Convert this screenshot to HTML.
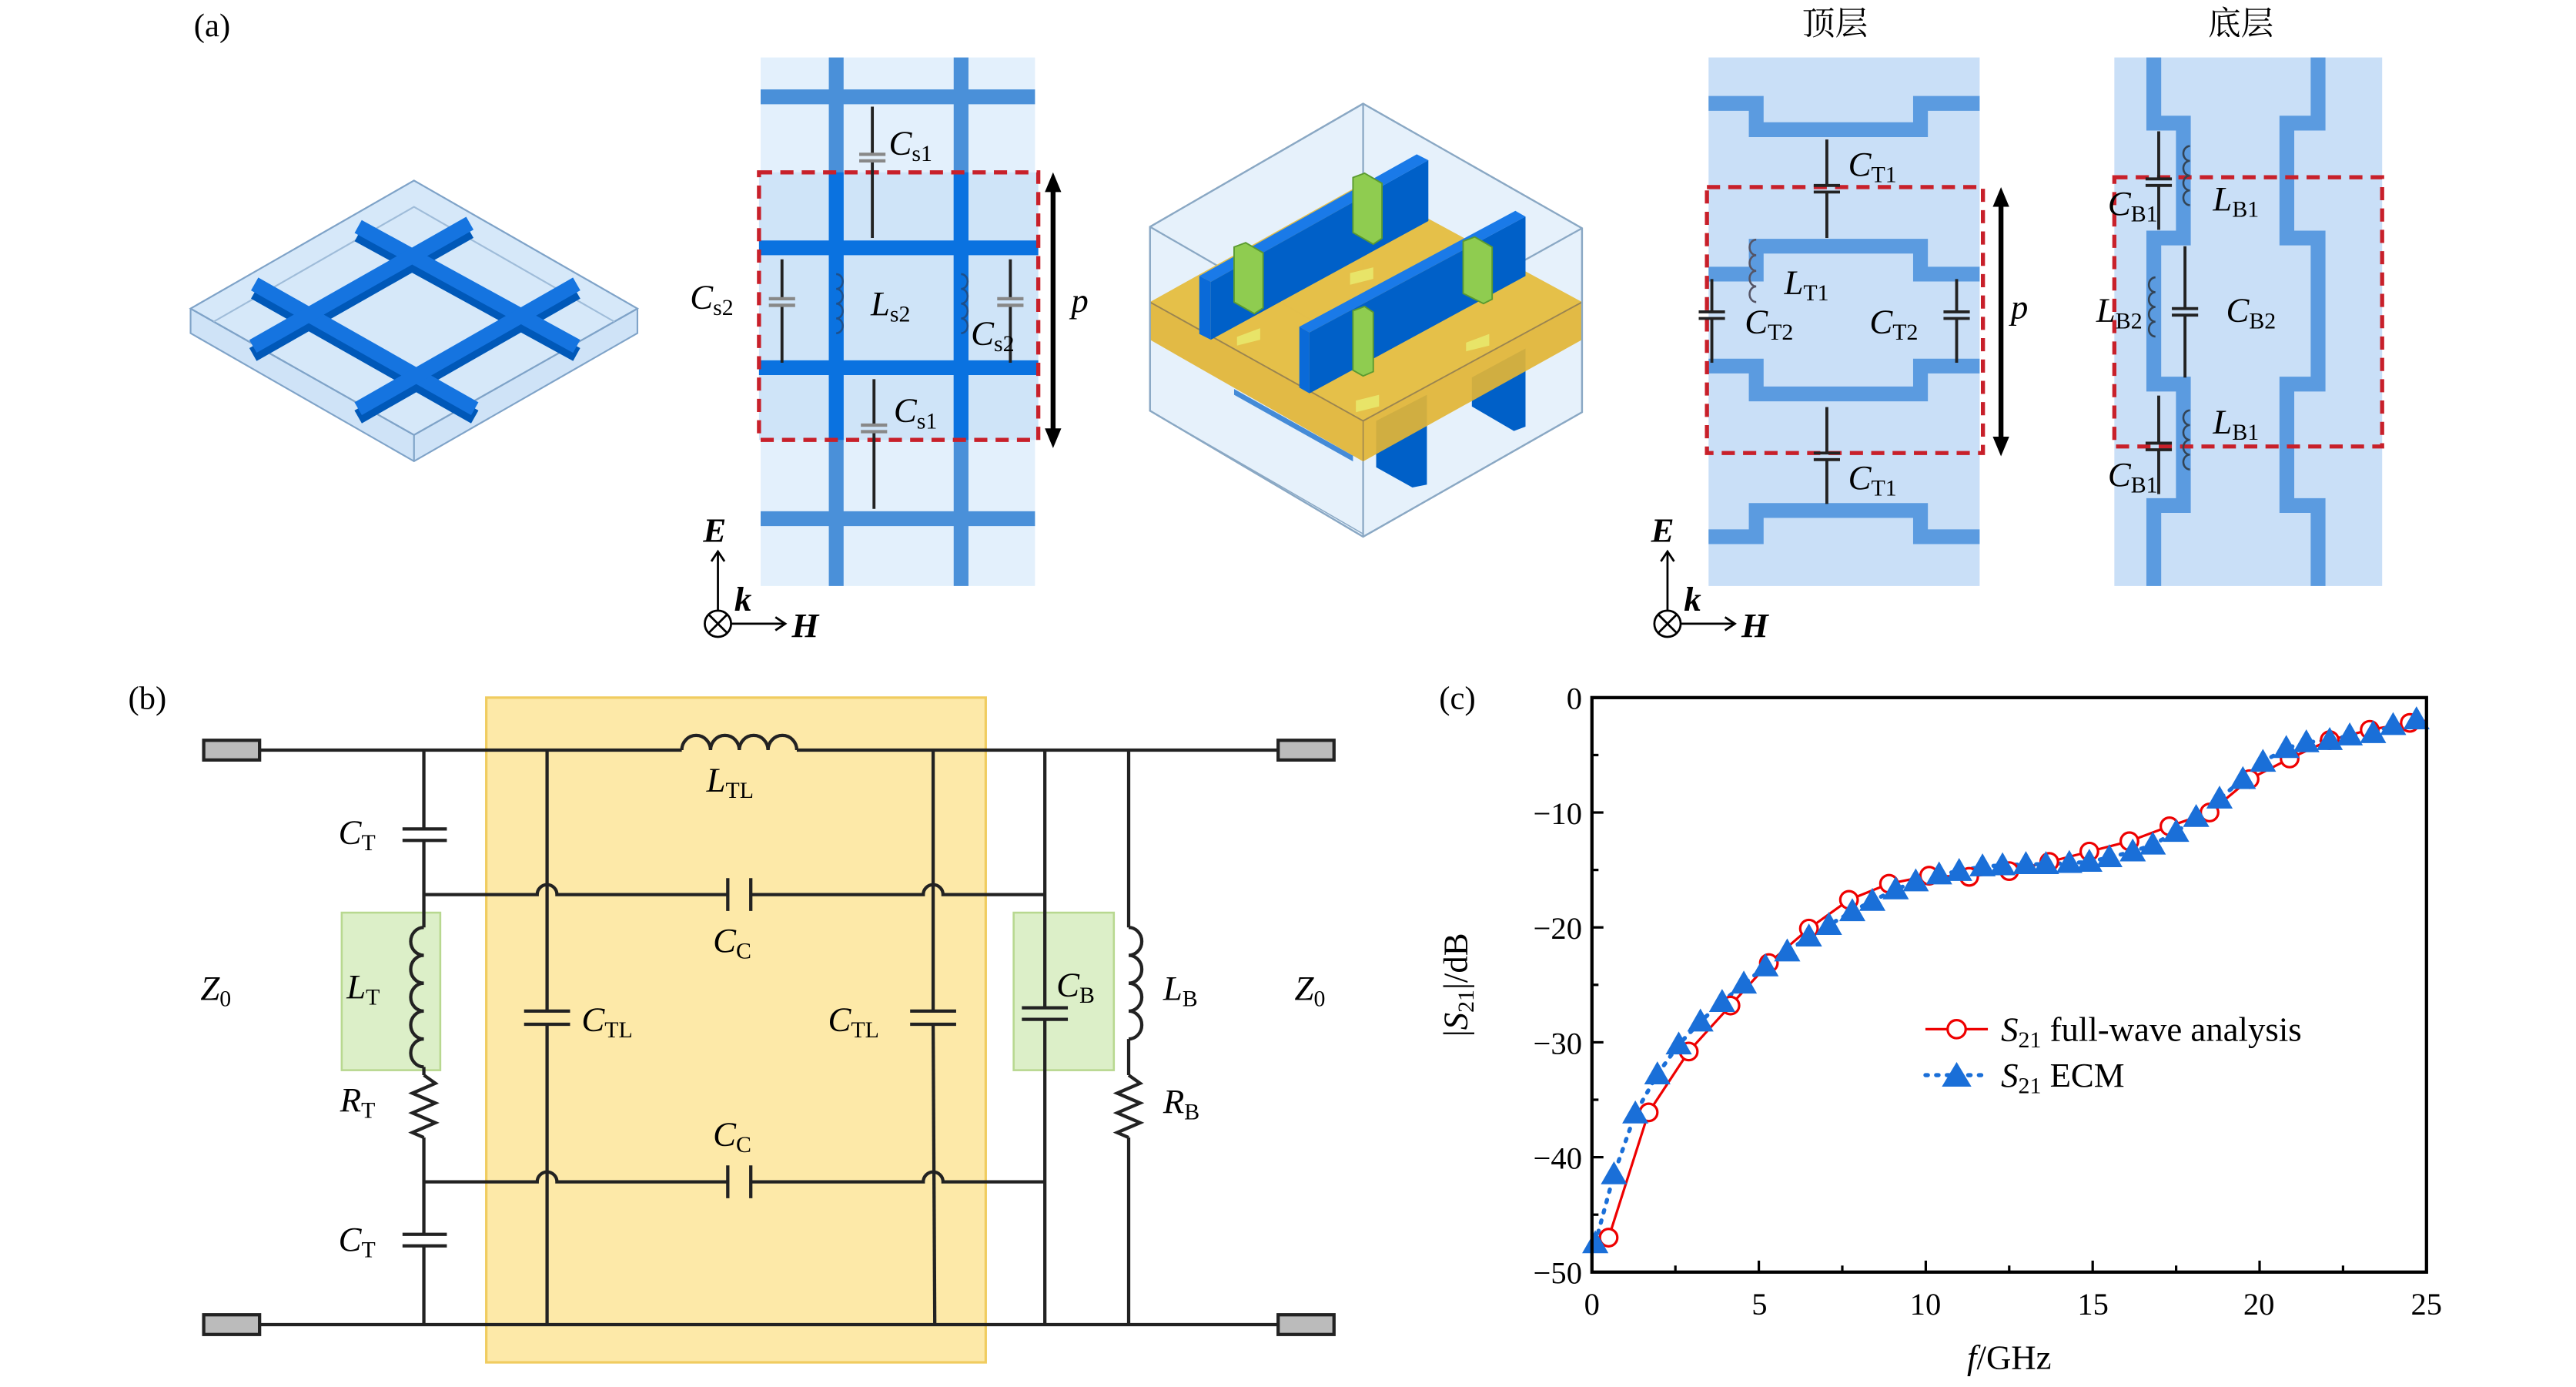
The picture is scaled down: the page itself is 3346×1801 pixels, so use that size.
<!DOCTYPE html>
<html><head><meta charset="utf-8"><style>
html,body{margin:0;padding:0;background:#fff;}
svg{display:block;}
text{font-family:"Liberation Serif","Noto Serif CJK SC",serif;fill:#000;}
.m{font-style:italic;font-size:21px;}
.s{font-style:normal;font-size:14px;}
.tk{font-size:19px;}
</style></head><body>
<svg id="sv" width="3346" height="1801" viewBox="0 0 1568 845" preserveAspectRatio="none" xmlns="http://www.w3.org/2000/svg">
<rect width="1568" height="845" fill="#fff"/>
<!-- labels -->
<text x="118" y="22" font-size="20">(a)</text>
<text x="78" y="432" font-size="20">(b)</text>
<text x="876" y="432" font-size="20">(c)</text>
<text x="1097" y="21" font-size="20" font-family="Noto Serif CJK SC,serif">顶层</text>
<text x="1344" y="21" font-size="20" font-family="Noto Serif CJK SC,serif">底层</text>

<!-- 1: isometric grid plate -->
<g stroke="#7fa3c8" stroke-width="1">
<polygon points="116,188 252,110 388,188 388,203 252,281 116,203" fill="#cfe3f7"/>
<polygon points="116,188 252,265 388,188 252,110" fill="#d6e8f9"/>
<polyline points="116,188 252,265 388,188" fill="none"/>
<line x1="252" y1="265" x2="252" y2="281"/>
<polyline points="130,196 252,126 374,196" fill="none" stroke="#9fbcd9"/>
</g>
<g stroke-linecap="butt">
<g stroke="#0058b8" stroke-width="9">
<line x1="218" y1="143" x2="351" y2="216"/><line x1="155" y1="178" x2="289" y2="254"/>
<line x1="286" y1="141" x2="154" y2="216"/><line x1="351" y1="178" x2="218" y2="254"/>
</g>
<g stroke="#1574e0" stroke-width="9">
<line x1="218" y1="138" x2="351" y2="211"/><line x1="155" y1="173" x2="289" y2="249"/>
<line x1="286" y1="136" x2="154" y2="211"/><line x1="351" y1="173" x2="218" y2="249"/>
</g></g>

<!-- 2: grid unit cell -->
<rect x="463" y="35" width="167" height="322" fill="#e3f0fc"/>
<rect x="462" y="105" width="170" height="163" fill="#cfe4f8"/>
<g stroke="#4a90d9" stroke-width="9">
<line x1="509" y1="35" x2="509" y2="357"/><line x1="585" y1="35" x2="585" y2="357"/>
<line x1="463" y1="59" x2="630" y2="59"/><line x1="463" y1="316" x2="630" y2="316"/>
</g>
<g stroke="#0a72e0" stroke-width="9">
<line x1="509" y1="105" x2="509" y2="268"/><line x1="585" y1="105" x2="585" y2="268"/>
<line x1="462" y1="151" x2="632" y2="151"/><line x1="462" y1="224" x2="632" y2="224"/>
</g>
<rect x="462" y="105" width="170" height="163" fill="none" stroke="#c8202a" stroke-width="2.5" stroke-dasharray="8,5"/>
<g stroke="#222" stroke-width="1.8" fill="none">
<line x1="531" y1="65" x2="531" y2="94"/><line x1="531" y1="98" x2="531" y2="145"/>
<line x1="476" y1="158" x2="476" y2="182"/><line x1="476" y1="186" x2="476" y2="221"/>
<line x1="615" y1="158" x2="615" y2="182"/><line x1="615" y1="186" x2="615" y2="221"/>
<line x1="532" y1="231" x2="532" y2="259"/><line x1="532" y1="263" x2="532" y2="310"/>
</g>
<g stroke="#888" stroke-width="2">
<line x1="523" y1="94" x2="539" y2="94"/><line x1="523" y1="98" x2="539" y2="98"/>
<line x1="468" y1="182" x2="484" y2="182"/><line x1="468" y1="186" x2="484" y2="186"/>
<line x1="607" y1="182" x2="623" y2="182"/><line x1="607" y1="186" x2="623" y2="186"/>
<line x1="524" y1="259" x2="540" y2="259"/><line x1="524" y1="263" x2="540" y2="263"/>
</g>
<g stroke="#1e4f8a" stroke-width="1.2" fill="none">
<path d="M509,167 a4,4.5 0 1 1 0,9 a4,4.5 0 1 1 0,9 a4,4.5 0 1 1 0,9 a4,4.5 0 1 1 0,9"/>
<path d="M585,167 a4,4.5 0 1 1 0,9 a4,4.5 0 1 1 0,9 a4,4.5 0 1 1 0,9 a4,4.5 0 1 1 0,9"/>
</g>
<text class="m" x="541" y="94">C<tspan class="s" dy="4">s1</tspan></text>
<text class="m" x="420" y="188">C<tspan class="s" dy="4">s2</tspan></text>
<text class="m" x="530" y="192">L<tspan class="s" dy="4">s2</tspan></text>
<text class="m" x="591" y="210">C<tspan class="s" dy="4">s2</tspan></text>
<text class="m" x="544" y="257">C<tspan class="s" dy="4">s1</tspan></text>
<g stroke="#000" stroke-width="3"><line x1="641" y1="115" x2="641" y2="262"/></g>
<polygon points="641,105 636,117 646,117" fill="#000"/><polygon points="641,273 636,261 646,261" fill="#000"/>
<text class="m" x="652" y="190">p</text>
<!-- axes a -->
<g stroke="#000" stroke-width="1.3" fill="none">
<line x1="437" y1="372" x2="437" y2="337"/><polyline points="433,342 437,336 441,342"/>
<circle cx="437" cy="380" r="8"/><line x1="431" y1="374" x2="443" y2="386"/><line x1="443" y1="374" x2="431" y2="386"/>
<line x1="445" y1="380" x2="478" y2="380"/><polyline points="472,376 478,380 472,384"/>
</g>
<text class="m" x="428" y="330" font-weight="bold">E</text>
<text class="m" x="447" y="372" font-weight="bold" font-size="18">k</text>
<text class="m" x="482" y="388" font-weight="bold">H</text>
<g stroke="#000" stroke-width="1.3" fill="none">
<line x1="1015" y1="372" x2="1015" y2="337"/><polyline points="1011,342 1015,336 1019,342"/>
<circle cx="1015" cy="380" r="8"/><line x1="1009" y1="374" x2="1021" y2="386"/><line x1="1021" y1="374" x2="1009" y2="386"/>
<line x1="1023" y1="380" x2="1056" y2="380"/><polyline points="1050,376 1056,380 1050,384"/>
</g>
<text class="m" x="1005" y="330" font-weight="bold">E</text>
<text class="m" x="1025" y="372" font-weight="bold" font-size="18">k</text>
<text class="m" x="1060" y="388" font-weight="bold">H</text>

<!-- 3: cube (zoom coords) -->
<g transform="translate(700,60.5) scale(0.1765)">
<polygon points="0,440 735,15 1490,445 1490,1080 735,1510 0,1075" fill="#e6f1fb" stroke="#8aa8c4" stroke-width="6"/>
<polyline points="0,440 735,865 1490,445" fill="none" stroke="#8aa8c4" stroke-width="6"/>
<line x1="735" y1="15" x2="735" y2="865" stroke="#8aa8c4" stroke-width="6"/>
<polygon points="780,1110 955,1020 955,1330 905,1340 780,1270" fill="#0060c8"/>
<polygon points="1110,960 1295,860 1295,1130 1255,1145 1110,1060" fill="#0060c8"/>
<polygon points="290,1000 700,1230 700,1250 290,1020" fill="#0060c8" opacity="0.7"/>
<polygon points="0,700 735,290 1490,700 1490,830 735,1250 0,830" fill="#e2b535" opacity="0.92"/>
<polygon points="0,700 735,290 1490,700 735,1110" fill="#e5c04a" opacity="0.95"/>
<polyline points="0,700 735,1110 1490,700" fill="none" stroke="#9a8450" stroke-width="5"/>
<line x1="735" y1="1110" x2="735" y2="1250" stroke="#9a8450" stroke-width="4"/>
<g fill="#e8ec70" opacity="0.8">
<polygon points="300,820 380,790 380,830 300,850"/><polygon points="1090,840 1170,810 1170,850 1090,870"/>
<polygon points="690,600 770,580 770,620 690,640"/><polygon points="710,1040 790,1020 790,1060 710,1080"/>
</g>
<polygon points="170,610 920,190 960,210 210,630" fill="#1a7ae8"/>
<polygon points="170,610 210,630 210,830 170,810" fill="#0a6ad8"/>
<polygon points="210,630 960,210 960,420 210,830" fill="#0060c8"/>
<polygon points="515,785 1260,385 1295,405 550,805" fill="#1a7ae8"/>
<polygon points="515,785 550,805 550,1015 515,995" fill="#0a6ad8"/>
<polygon points="550,805 1295,405 1295,610 550,1015" fill="#0060c8"/>
<g fill="#8fcc50" stroke="#5a9a30" stroke-width="5">
<polygon points="700,270 740,255 800,290 800,480 770,500 700,460"/>
<polygon points="290,510 330,495 390,530 390,720 360,740 290,700"/>
<polygon points="1080,490 1120,475 1180,510 1180,690 1150,705 1080,670"/>
<polygon points="700,730 740,715 770,735 770,940 735,955 700,935"/>
</g>
<polygon points="0,440 735,15 1490,445 1490,1080 735,1510 0,1075" fill="none" stroke="#8aa8c4" stroke-width="6"/>
<line x1="735" y1="1250" x2="735" y2="1510" stroke="#8aa8c4" stroke-width="6"/>
<polyline points="0,1075 735,1500" fill="none" stroke="#8aa8c4" stroke-width="4"/>
</g>

<!-- 4: top layer -->
<rect x="1040" y="35" width="165" height="322" fill="#c9dff7"/>
<g stroke="#5b9be0" stroke-width="9" fill="none" stroke-linejoin="miter">
<polyline points="1040,63 1069,63 1069,79 1169,79 1169,63 1205,63"/>
<polyline points="1040,167 1069,167 1069,150 1169,150 1169,167 1205,167"/>
<polyline points="1040,223 1069,223 1069,240 1169,240 1169,223 1205,223"/>
<polyline points="1040,327 1069,327 1069,311 1169,311 1169,327 1205,327"/>
</g>
<rect x="1039" y="114" width="168" height="162" fill="none" stroke="#c8202a" stroke-width="2.5" stroke-dasharray="8,5"/>
<g stroke="#222" stroke-width="1.8">
<line x1="1112" y1="85" x2="1112" y2="113"/><line x1="1112" y1="117" x2="1112" y2="145"/>
<line x1="1112" y1="248" x2="1112" y2="276"/><line x1="1112" y1="280" x2="1112" y2="307"/>
<line x1="1042" y1="170" x2="1042" y2="190"/><line x1="1042" y1="194" x2="1042" y2="221"/>
<line x1="1191" y1="170" x2="1191" y2="190"/><line x1="1191" y1="194" x2="1191" y2="221"/>
<line x1="1104" y1="113" x2="1120" y2="113"/><line x1="1104" y1="117" x2="1120" y2="117"/>
<line x1="1104" y1="276" x2="1120" y2="276"/><line x1="1104" y1="280" x2="1120" y2="280"/>
<line x1="1034" y1="190" x2="1050" y2="190"/><line x1="1034" y1="194" x2="1050" y2="194"/>
<line x1="1183" y1="190" x2="1199" y2="190"/><line x1="1183" y1="194" x2="1199" y2="194"/>
</g>
<path d="M1069,146 a4,4.7 0 1 0 0,9.5 a4,4.7 0 1 0 0,9.5 a4,4.7 0 1 0 0,9.5 a4,4.7 0 1 0 0,9.5" fill="none" stroke="#556" stroke-width="1.2"/>
<text class="m" x="1125" y="107">C<tspan class="s" dy="4">T1</tspan></text>
<text class="m" x="1086" y="179">L<tspan class="s" dy="4">T1</tspan></text>
<text class="m" x="1062" y="203">C<tspan class="s" dy="4">T2</tspan></text>
<text class="m" x="1138" y="203">C<tspan class="s" dy="4">T2</tspan></text>
<text class="m" x="1125" y="298">C<tspan class="s" dy="4">T1</tspan></text>
<g stroke="#000" stroke-width="3"><line x1="1218" y1="124" x2="1218" y2="268"/></g>
<polygon points="1218,114 1213,126 1223,126" fill="#000"/><polygon points="1218,278 1213,266 1223,266" fill="#000"/>
<text class="m" x="1224" y="194">p</text>

<!-- 5: bottom layer -->
<rect x="1287" y="35" width="163" height="322" fill="#c9dff7"/>
<g stroke="#5b9be0" stroke-width="9" fill="none">
<polyline points="1311,35 1311,75 1329,75 1329,145 1311,145 1311,234 1329,234 1329,308 1311,308 1311,357"/>
<polyline points="1411,35 1411,75 1392,75 1392,145 1411,145 1411,234 1392,234 1392,308 1411,308 1411,357"/>
</g>
<rect x="1287" y="108" width="163" height="164" fill="none" stroke="#c8202a" stroke-width="2.5" stroke-dasharray="8,5"/>
<g stroke="#222" stroke-width="1.8">
<line x1="1314" y1="80" x2="1314" y2="109"/><line x1="1314" y1="113" x2="1314" y2="140"/>
<line x1="1306" y1="109" x2="1322" y2="109"/><line x1="1306" y1="113" x2="1322" y2="113"/>
<line x1="1330" y1="150" x2="1330" y2="188"/><line x1="1330" y1="192" x2="1330" y2="230"/>
<line x1="1322" y1="188" x2="1338" y2="188"/><line x1="1322" y1="192" x2="1338" y2="192"/>
<line x1="1314" y1="241" x2="1314" y2="270"/><line x1="1314" y1="274" x2="1314" y2="301"/>
<line x1="1306" y1="270" x2="1322" y2="270"/><line x1="1306" y1="274" x2="1322" y2="274"/>
</g>
<g fill="none" stroke="#345" stroke-width="1.2">
<path d="M1333,89 a4,4.5 0 1 0 0,9 a4,4.5 0 1 0 0,9 a4,4.5 0 1 0 0,9 a4,4.5 0 1 0 0,9"/>
<path d="M1312,169 a4,4.5 0 1 0 0,9 a4,4.5 0 1 0 0,9 a4,4.5 0 1 0 0,9 a4,4.5 0 1 0 0,9"/>
<path d="M1333,250 a4,4.5 0 1 0 0,9 a4,4.5 0 1 0 0,9 a4,4.5 0 1 0 0,9 a4,4.5 0 1 0 0,9"/>
</g>
<text class="m" x="1283" y="131">C<tspan class="s" dy="4">B1</tspan></text>
<text class="m" x="1347" y="128">L<tspan class="s" dy="4">B1</tspan></text>
<text class="m" x="1276" y="196">L<tspan class="s" dy="4">B2</tspan></text>
<text class="m" x="1355" y="196">C<tspan class="s" dy="4">B2</tspan></text>
<text class="m" x="1347" y="264">L<tspan class="s" dy="4">B1</tspan></text>
<text class="m" x="1283" y="296">C<tspan class="s" dy="4">B1</tspan></text>

<!-- (b) circuit -->
<rect x="296" y="425" width="304" height="405" fill="#fde9a8" stroke="#f0cc60" stroke-width="1.5"/>
<rect x="208" y="556" width="60" height="96" fill="#dcefc8" stroke="#b8d890" stroke-width="1.2"/>
<rect x="617" y="556" width="61" height="96" fill="#dcefc8" stroke="#b8d890" stroke-width="1.2"/>
<g stroke="#222" stroke-width="2" fill="none">
<line x1="158" y1="457" x2="415" y2="457"/><line x1="485" y1="457" x2="778" y2="457"/>
<path d="M415,457 a8.75,9 0 0 1 17.5,0 a8.75,9 0 0 1 17.5,0 a8.75,9 0 0 1 17.5,0 a8.75,9 0 0 1 17.5,0"/>
<line x1="158" y1="807" x2="778" y2="807"/>
<line x1="258" y1="457" x2="258" y2="505"/><line x1="258" y1="512" x2="258" y2="565"/>
<line x1="245" y1="505" x2="272" y2="505"/><line x1="245" y1="512" x2="272" y2="512"/>
<path d="M258,565 a8,8.5 0 1 0 0,17 a8,8.5 0 1 0 0,17 a8,8.5 0 1 0 0,17 a8,8.5 0 1 0 0,17 a8,8.5 0 1 0 0,17"/>
<line x1="258" y1="650" x2="258" y2="655"/>
<polyline points="258,655 265,660 251,666 265,672 251,678 265,684 251,690 258,693"/>
<line x1="258" y1="693" x2="258" y2="752"/><line x1="258" y1="759" x2="258" y2="807"/>
<line x1="245" y1="752" x2="272" y2="752"/><line x1="245" y1="759" x2="272" y2="759"/>
<path d="M258,545 L327,545 a6,6 0 0 1 12,0 L443,545 M457,545 L562,545 a6,6 0 0 1 12,0 L636,545"/>
<line x1="443" y1="535" x2="443" y2="555"/><line x1="457" y1="535" x2="457" y2="555"/>
<path d="M258,720 L327,720 a6,6 0 0 1 12,0 L443,720 M457,720 L562,720 a6,6 0 0 1 12,0 L636,720"/>
<line x1="443" y1="710" x2="443" y2="730"/><line x1="457" y1="710" x2="457" y2="730"/>
<line x1="333" y1="457" x2="333" y2="616"/><line x1="333" y1="624" x2="333" y2="807"/>
<line x1="319" y1="616" x2="347" y2="616"/><line x1="319" y1="624" x2="347" y2="624"/>
<line x1="568" y1="457" x2="568" y2="616"/><line x1="568" y1="624" x2="569" y2="807"/>
<line x1="554" y1="616" x2="582" y2="616"/><line x1="554" y1="624" x2="582" y2="624"/>
<line x1="636" y1="457" x2="636" y2="614"/><line x1="636" y1="621" x2="636" y2="807"/>
<line x1="622" y1="614" x2="650" y2="614"/><line x1="622" y1="621" x2="650" y2="621"/>
<line x1="687" y1="457" x2="687" y2="565"/>
<path d="M687,565 a8,8.5 0 1 1 0,17 a8,8.5 0 1 1 0,17 a8,8.5 0 1 1 0,17 a8,8.5 0 1 1 0,17"/>
<line x1="687" y1="633" x2="687" y2="655"/>
<polyline points="687,655 694,660 680,666 694,672 680,678 694,684 680,690 687,693"/>
<line x1="687" y1="693" x2="687" y2="807"/>
</g>
<g fill="#bbb" stroke="#222" stroke-width="2">
<rect x="124" y="451" width="34" height="12"/><rect x="124" y="801" width="34" height="12"/>
<rect x="778" y="451" width="34" height="12"/><rect x="778" y="801" width="34" height="12"/>
</g>
<text class="m" x="206" y="514">C<tspan class="s" dy="4">T</tspan></text>
<text class="m" x="211" y="608">L<tspan class="s" dy="4">T</tspan></text>
<text class="m" x="207" y="677">R<tspan class="s" dy="4">T</tspan></text>
<text class="m" x="206" y="762">C<tspan class="s" dy="4">T</tspan></text>
<text class="m" x="122" y="609">Z<tspan class="s" dy="4" font-style="normal">0</tspan></text>
<text class="m" x="788" y="609">Z<tspan class="s" dy="4" font-style="normal">0</tspan></text>
<text class="m" x="430" y="482">L<tspan class="s" dy="4">TL</tspan></text>
<text class="m" x="434" y="580">C<tspan class="s" dy="4">C</tspan></text>
<text class="m" x="434" y="698">C<tspan class="s" dy="4">C</tspan></text>
<text class="m" x="354" y="628">C<tspan class="s" dy="4">TL</tspan></text>
<text class="m" x="504" y="628">C<tspan class="s" dy="4">TL</tspan></text>
<text class="m" x="643" y="607">C<tspan class="s" dy="4">B</tspan></text>
<text class="m" x="708" y="609">L<tspan class="s" dy="4">B</tspan></text>
<text class="m" x="708" y="678">R<tspan class="s" dy="4">B</tspan></text>

<!-- (c) plot -->
<g id="plot"></g>
<rect x="969" y="425" width="508" height="350" fill="none" stroke="#000" stroke-width="2"/>
<g id="ticks" stroke="#000" stroke-width="1.5"></g>
<g class="tk" font-size="19">
<text x="963" y="432" text-anchor="end">0</text>
<text x="963" y="502" text-anchor="end">−10</text>
<text x="963" y="572" text-anchor="end">−20</text>
<text x="963" y="642" text-anchor="end">−30</text>
<text x="963" y="712" text-anchor="end">−40</text>
<text x="963" y="782" text-anchor="end">−50</text>
<text x="969" y="801" text-anchor="middle">0</text>
<text x="1071" y="801" text-anchor="middle">5</text>
<text x="1172" y="801" text-anchor="middle">10</text>
<text x="1274" y="801" text-anchor="middle">15</text>
<text x="1375" y="801" text-anchor="middle">20</text>
<text x="1477" y="801" text-anchor="middle">25</text>
</g>
<text x="1223" y="834" text-anchor="middle" font-size="21"><tspan font-style="italic">f</tspan>/GHz</text>
<text transform="translate(893,600) rotate(-90)" text-anchor="middle" font-size="21">|<tspan font-style="italic">S</tspan><tspan font-size="14" dy="4">21</tspan><tspan dy="-4">|/dB</tspan></text>
<g>
<line x1="1172" y1="627" x2="1210" y2="627" stroke="#e00" stroke-width="1.5"/>
<circle cx="1191" cy="627" r="5.5" fill="#fff" stroke="#e00" stroke-width="1.5"/>
<line x1="1172" y1="655" x2="1210" y2="655" stroke="#1a6fd8" stroke-width="2.5" stroke-dasharray="1.5,5" stroke-linecap="round"/>
<polygon points="1191,647 1182,662 1200,662" fill="#1a6fd8"/>
<text x="1218" y="634" font-size="21"><tspan font-style="italic">S</tspan><tspan font-size="14" dy="4">21</tspan><tspan dy="-4"> full-wave analysis</tspan></text>
<text x="1218" y="662" font-size="21"><tspan font-style="italic">S</tspan><tspan font-size="14" dy="4">21</tspan><tspan dy="-4"> ECM</tspan></text>
</g>
</svg>
<script>
(function(){
var NS="http://www.w3.org/2000/svg";
function X(f){return 969+f*20.32;} function Y(d){return 425-d*7;}
var circ=[[0.5,-47],[1.7,-36.1],[2.9,-30.8],[4.15,-26.8],[5.3,-23.1],[6.5,-20.1],[7.7,-17.6],[8.9,-16.2],[10.1,-15.5],[11.3,-15.6],[12.5,-15.1],[13.7,-14.3],[14.9,-13.4],[16.1,-12.5],[17.3,-11.2],[18.5,-10],[19.7,-7.1],[20.9,-5.3],[22.1,-3.7],[23.3,-2.8],[24.5,-2.2],[25,-2]];
var tri=[[0.1,-47.5],[0.66,-41.5],[1.3,-36.2],[1.96,-32.8],[2.6,-30.2],[3.25,-28.2],[3.9,-26.5],[4.55,-24.9],[5.2,-23.4],[5.85,-22.1],[6.5,-20.8],[7.1,-19.8],[7.8,-18.6],[8.4,-17.7],[9.1,-16.7],[9.7,-16],[10.4,-15.4],[11,-15.1],[11.7,-14.7],[12.3,-14.6],[13,-14.5],[13.6,-14.5],[14.3,-14.4],[14.9,-14.3],[15.5,-13.9],[16.2,-13.4],[16.8,-12.8],[17.5,-11.7],[18.1,-10.4],[18.8,-8.8],[19.5,-7.1],[20.1,-5.6],[20.8,-4.4],[21.4,-3.9],[22.1,-3.7],[22.7,-3.3],[23.4,-3.1],[24,-2.4],[24.7,-1.9]];
var g=document.getElementById("plot");
function el(n,a){var e=document.createElementNS(NS,n);for(var k in a)e.setAttribute(k,a[k]);g.appendChild(e);return e;}
var p1=circ.map(function(c){return X(c[0]).toFixed(1)+","+Y(c[1]).toFixed(1);}).join(" ");
el("polyline",{points:p1,fill:"none",stroke:"#e00","stroke-width":1.5});
var p2=tri.map(function(c){return X(c[0]).toFixed(1)+","+Y(c[1]).toFixed(1);}).join(" ");
el("polyline",{points:p2,fill:"none",stroke:"#1a6fd8","stroke-width":2.5,"stroke-dasharray":"1.5,5","stroke-linecap":"round"});
circ.slice(0,21).forEach(function(c){el("circle",{cx:X(c[0]),cy:Y(c[1]),r:5.3,fill:"#fff",stroke:"#e00","stroke-width":1.5});});
tri.forEach(function(c){var x=X(c[0]),y=Y(c[1]);el("polygon",{points:(x)+","+(y-8)+" "+(x-8)+","+(y+6)+" "+(x+8)+","+(y+6),fill:"#1a6fd8"});});
var t=document.getElementById("ticks");
function ln(a){var e=document.createElementNS(NS,"line");for(var k in a)e.setAttribute(k,a[k]);t.appendChild(e);}
for(var d=0;d<=50;d+=5){var y=Y(-d),L=(d%10==0)?7:4;ln({x1:969,y1:y,x2:969+L,y2:y});}
for(var f=0;f<=25;f+=2.5){var x=X(f),L=(f%5==0)?7:4;ln({x1:x,y1:775,x2:x,y2:775-L});}
})();
</script>
</body></html>
